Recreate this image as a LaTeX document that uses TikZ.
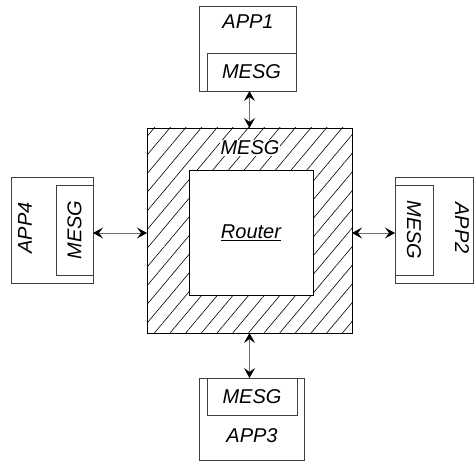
\documentclass[tikz,border=0pt]{standalone}
\usepackage{fontspec}
\setmainfont{Liberation Sans}
\usetikzlibrary{arrows.meta,patterns.meta}
\definecolor{EdgeClr}{rgb}{0.25,0.25,0.25}
\definecolor{LinkClr}{rgb}{0.45,0.45,0.45}

\begin{document}
\begin{tikzpicture}[x=1pt,y=1pt,
  box/.style={draw=EdgeClr,line width=0.8pt,inner sep=0pt,outer sep=0pt},
  txt/.style={font=\fontsize{20}{22}\selectfont\itshape,inner sep=1pt},
  link/.style={draw=LinkClr,line width=0.9pt,
    {Stealth[length=10pt,width=11pt,inset=4pt,black]}-{Stealth[length=10pt,width=11pt,inset=4pt,black]}}]
\useasboundingbox (0,0) rectangle (474,461);

\node[box,draw=black,minimum width=205,minimum height=205,
  pattern={Lines[angle=50,distance=12pt,line width=0.6pt]}] (hub) at (249.5,230.5) {};
\node[box,draw=black,fill=white,minimum width=124,minimum height=125] (router) at (251,228.5) {};
\node[txt] (routertxt) at (router) {\underline{Router}};
\node[txt,fill=white] (hubmsg) at (250,313) {MESG};

\node[box,minimum width=97,minimum height=85] (app1) at (247.5,412.5) {};
\node[box,minimum width=89,minimum height=38] (app1msg) at (251.5,389) {};
\node[txt] (app1txt) at (248,439) {APP1};
\node[txt] (app1msgtxt) at (app1msg) {MESG};

\node[box,minimum width=78,minimum height=106] (app2) at (434,231) {};
\node[box,minimum width=38,minimum height=90] (app2msg) at (414,231) {};
\node[txt,rotate=-90] (app2txt) at (462,233) {APP2};
\node[txt,rotate=-90] (app2msgtxt) at (app2msg) {MESG};

\node[box,minimum width=105,minimum height=82] (app3) at (251.5,42) {};
\node[box,minimum width=90,minimum height=37] (app3msg) at (252,64.5) {};
\node[txt] (app3msgtxt) at (app3msg) {MESG};
\node[txt] (app3txt) at (252,25) {APP3};

\node[box,minimum width=82,minimum height=106] (app4) at (52,231) {};
\node[box,minimum width=37,minimum height=90] (app4msg) at (74.5,231) {};
\node[txt,rotate=90] (app4txt) at (25,233) {APP4};
\node[txt,rotate=90] (app4msgtxt) at (app4msg) {MESG};

\draw[link] (hub.north |- app1.south) -- (hub.north);
\draw[link] (hub.south) -- (hub.south |- app3.north);
\draw[link] (app4.east |- 0,228) -- (hub.west |- 0,228);
\draw[link] (hub.east |- 0,228) -- (app2.west |- 0,228);

\end{tikzpicture}
\end{document}
